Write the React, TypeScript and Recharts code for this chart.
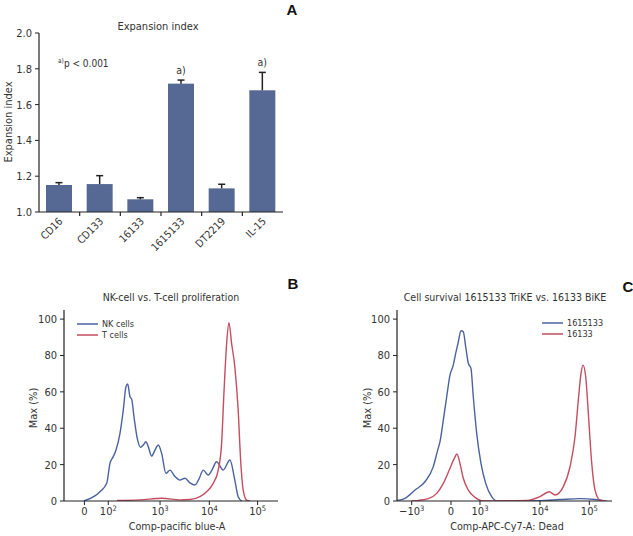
import React from 'react';
import { BarChart, Bar, XAxis, YAxis, LineChart, Line, Legend } from 'recharts';

const FONT = "'DejaVu Sans Condensed', 'Liberation Sans Narrow', 'Roboto', sans-serif";
const TEXT = '#333';
const AXIS = '#222';
const BAR = '#566994';
const BLUE = '#4a62a0';
const RED = '#c44d60';

// ---------- Panel A: expansion index ----------
const categories = ['CD16', 'CD133', '16133', '1615133', 'DT2219', 'IL-15'];
const expansionMeans = [1.151, 1.156, 1.071, 1.717, 1.132, 1.68];
const expansionErrors = [0.013, 0.047, 0.009, 0.02, 0.023, 0.1];
const significance = ['', '', '', 'a)', '', 'a)'];
const expansionTicks = [1.0, 1.2, 1.4, 1.6, 1.8, 2.0];
const Y_MIN_A = 1.0;

const barData = categories.map((c, i) => ({
  name: c,
  mean: expansionMeans[i],
  err: expansionErrors[i],
  sig: significance[i],
}));

// ---------- Panel B: NK vs T proliferation ----------
const nkX = [1.51, 1.833, 1.968, 2.034, 2.1, 2.155, 2.235, 2.301, 2.355, 2.39, 2.436, 2.47, 2.516, 2.582, 2.651, 2.703, 2.757, 2.803, 2.871, 2.938, 3.004, 3.072, 3.159, 3.239, 3.339, 3.44, 3.54, 3.641, 3.741, 3.821, 3.908, 4.008, 4.082, 4.177, 4.309, 4.444, 4.542, 4.61, 4.679];
const nkY = [0, 5.1, 9.7, 20.7, 24.4, 28, 37.2, 50, 62.8, 64.3, 57.3, 56, 46.3, 34.4, 29.5, 30.8, 32.6, 29.9, 24.7, 28, 30.8, 26.2, 15.2, 17, 13.5, 11.5, 12.5, 10, 8.8, 12, 17, 14.3, 17, 21.6, 17, 22.5, 11.5, 2.4, 0];
const tX = [2.175, 2.64, 3.08, 3.44, 3.64, 3.84, 3.976, 4.108, 4.209, 4.277, 4.323, 4.378, 4.424, 4.478, 4.542, 4.61, 4.659, 4.711, 4.779, 4.845];
const tY = [0.3, 0.6, 1.5, 0.6, 0.8, 2.4, 5.1, 9.7, 17, 31.7, 59, 86.6, 98, 86.6, 73.8, 50, 22.5, 6, 0.5, 0];
const bTicks = [1.52, 2, 3.04, 4.03, 5];
const bTickLabels = ['0', '10^2', '10^3', '10^4', '10^5'];
const bSeries = ['NK cells', 'T cells'];

// ---------- Panel C: cell survival ----------
const trikeX = [1.1, 1.262, 1.465, 1.667, 1.836, 1.925, 1.972, 2.039, 2.108, 2.174, 2.241, 2.29, 2.343, 2.398, 2.444, 2.493, 2.546, 2.6, 2.647, 2.716, 2.803, 2.899, 3.02, 3.122, 4.0, 4.406, 4.811, 5.116, 5.318];
const trikeY = [0.3, 1.5, 6, 10.6, 18.9, 28, 32.6, 44.5, 57.3, 69.2, 74.7, 81.1, 87.5, 93.6, 93, 84.8, 75.7, 72.9, 57.3, 37.2, 20.7, 9.7, 2.4, 0, 0.2, 0.8, 1.3, 0.8, 0];
const bikeX = [1.398, 1.734, 1.905, 2.039, 2.16, 2.262, 2.316, 2.377, 2.444, 2.546, 2.682, 2.85, 3.73, 4.0, 4.189, 4.304, 4.473, 4.609, 4.71, 4.777, 4.832, 4.872, 4.927, 4.98, 5.049, 5.116, 5.217, 5.353];
const bikeY = [0, 1.3, 4.2, 9.7, 17, 23.4, 25.8, 20.7, 12.5, 6, 2, 0, 0.3, 2.4, 5.1, 3.3, 7.9, 18.9, 35.3, 55.5, 70.2, 74.7, 68.3, 48.2, 20.7, 6, 0.5, 0];
const cTicks = [1.398, 2.195, 2.783, 4, 5];
const cTickLabels = ['\u221210^3', '0', '10^3', '10^4', '10^5'];
const cSeries = ['1615133', '16133'];

const maxTicks = [0, 20, 40, 60, 80, 100];

const zip = (xs: number[], ys: number[]) => xs.map((x, i) => ({ x, y: ys[i] }));
const nkData = zip(nkX, nkY);
const tData = zip(tX, tY);
const trikeData = zip(trikeX, trikeY);
const bikeData = zip(bikeX, bikeY);

// ---------- custom renderers ----------
const BarWithError = (props: any) => {
  const { x, y, width, height, payload } = props;
  if (width == null || height == null) return null;
  const pxPerUnit = height / (payload.mean - Y_MIN_A);
  const errPx = payload.err * pxPerUnit;
  const cx = x + width / 2;
  const top = y - errPx;
  return (
    <g>
      <rect x={x} y={y} width={width} height={height} fill={BAR} />
      <line x1={cx} x2={cx} y1={y} y2={top} stroke={AXIS} strokeWidth={1.5} />
      <line x1={cx - 3.5} x2={cx + 3.5} y1={top} y2={top} stroke={AXIS} strokeWidth={1.5} />
      {payload.sig ? (
        <text x={cx} y={top - 6} textAnchor="middle" fontSize={10.5} fill={TEXT} fontFamily={FONT}>
          {payload.sig}
        </text>
      ) : null}
    </g>
  );
};

const CatTick = (props: any) => {
  const { x, y, payload, width, visibleTicksCount } = props;
  const idx = payload ? payload.index : 0;
  const half = width && visibleTicksCount ? width / visibleTicksCount / 2 : 0;
  return (
    <g>
      {idx > 0 && half > 0 ? (
        <line x1={x - half} x2={x - half} y1={y} y2={y + 4} stroke={AXIS} strokeWidth={1.2} />
      ) : null}
      <text
        x={x + 4}
        y={y + 10}
        textAnchor="end"
        fontSize={10.5}
        fill={TEXT}
        fontFamily={FONT}
        transform={`rotate(-45 ${x + 4} ${y + 10})`}
      >
        {payload.value}
      </text>
    </g>
  );
};

const makeExpTick = (values: number[], labels: string[]) => (props: any) => {
  const { x, y, payload } = props;
  let i = values.findIndex((v) => Math.abs(v - payload.value) < 1e-6);
  if (i < 0) i = payload.index;
  const lab = labels[i] || '';
  const [base, exp] = lab.split('^');
  return (
    <text x={x} y={y + 8} textAnchor="middle" fontSize={11} fill={TEXT} fontFamily={FONT}>
      <tspan>{base}</tspan>
      {exp ? (
        <tspan dy={-4} fontSize={7.5}>
          {exp}
        </tspan>
      ) : null}
    </text>
  );
};

const makeLegend = (order: string[]) => (props: any) => {
  const payload = [...(props.payload || [])].sort(
    (a: any, b: any) => order.indexOf(a.value) - order.indexOf(b.value)
  );
  return (
    <svg width={90} height={24} style={{ display: 'block' }}>
      {payload.map((p: any, i: number) => (
        <g key={i}>
          <line x1={0} x2={21} y1={6 + i * 11} y2={6 + i * 11} stroke={p.color} strokeWidth={1.5} />
          <text x={25} y={9 + i * 11} fontSize={9} fill={TEXT} fontFamily={FONT}>
            {p.value}
          </text>
        </g>
      ))}
    </svg>
  );
};

const yTickStyle = { fontSize: 11, fill: TEXT, fontFamily: FONT };

export default function App() {
  return (
    <div style={{ position: 'absolute', left: 0, top: 0, width: 633, height: 536, background: '#fff', fontFamily: FONT }}>
      {/* Panel A */}
      <div style={{ position: 'absolute', left: 0, top: 0 }}>
        <BarChart width={300} height={260} data={barData} margin={{ top: 33, right: 17, bottom: 8, left: 9 }}>
          <XAxis
            dataKey="name"
            height={40}
            tickLine={false}
            tickSize={0}
            tickMargin={0}
            interval={0}
            tick={<CatTick />}
            axisLine={{ stroke: AXIS, strokeWidth: 1.2 }}
          />
          <YAxis
            type="number"
            domain={[1, 2]}
            ticks={expansionTicks}
            allowDataOverflow
            width={30}
            tickSize={4}
            tickMargin={3}
            tickFormatter={(v: number) => v.toFixed(1)}
            tick={yTickStyle}
            axisLine={{ stroke: AXIS, strokeWidth: 1.2 }}
            tickLine={{ stroke: AXIS }}
          />
          <Bar dataKey="mean" barSize={26} shape={<BarWithError />} isAnimationActive={false} />
        </BarChart>
      </div>

      {/* Panel B */}
      <div style={{ position: 'absolute', left: 0, top: 280 }}>
        <LineChart width={300} height={256} margin={{ top: 30, right: 22, bottom: 5, left: 34 }}>
          <XAxis
            type="number"
            dataKey="x"
            domain={[1.11, 5.41]}
            allowDataOverflow
            ticks={bTicks}
            interval={0}
            height={30}
            tickSize={4}
            tickMargin={2}
            tick={makeExpTick(bTicks, bTickLabels)}
            axisLine={{ stroke: AXIS, strokeWidth: 1.2 }}
            tickLine={{ stroke: AXIS }}
          />
          <YAxis
            type="number"
            domain={[0, 105]}
            allowDataOverflow
            ticks={maxTicks}
            width={30}
            tickSize={4}
            tickMargin={3}
            tick={yTickStyle}
            axisLine={{ stroke: AXIS, strokeWidth: 1.2 }}
            tickLine={{ stroke: AXIS }}
          />
          <Legend
            layout="vertical"
            align="center"
            verticalAlign="middle"
            content={makeLegend(bSeries)}
            wrapperStyle={{ left: 77, top: 38, width: 90, height: 24 }}
          />
          <Line data={nkData} dataKey="y" name={bSeries[0]} type="monotone" stroke={BLUE} strokeWidth={1.4} dot={false} isAnimationActive={false} />
          <Line data={tData} dataKey="y" name={bSeries[1]} type="monotone" stroke={RED} strokeWidth={1.4} dot={false} isAnimationActive={false} />
        </LineChart>
      </div>

      {/* Panel C */}
      <div style={{ position: 'absolute', left: 310, top: 280 }}>
        <LineChart width={323} height={256} margin={{ top: 30, right: 21, bottom: 5, left: 57 }}>
          <XAxis
            type="number"
            dataKey="x"
            domain={[1.1, 5.46]}
            allowDataOverflow
            ticks={cTicks}
            interval={0}
            height={30}
            tickSize={4}
            tickMargin={2}
            tick={makeExpTick(cTicks, cTickLabels)}
            axisLine={{ stroke: AXIS, strokeWidth: 1.2 }}
            tickLine={{ stroke: AXIS }}
          />
          <YAxis
            type="number"
            domain={[0, 105]}
            allowDataOverflow
            ticks={maxTicks}
            width={30}
            tickSize={4}
            tickMargin={3}
            tick={yTickStyle}
            axisLine={{ stroke: AXIS, strokeWidth: 1.2 }}
            tickLine={{ stroke: AXIS }}
          />
          <Legend
            layout="vertical"
            align="center"
            verticalAlign="middle"
            content={makeLegend(cSeries)}
            wrapperStyle={{ left: 232, top: 37, width: 90, height: 24 }}
          />
          <Line data={trikeData} dataKey="y" name={cSeries[0]} type="monotone" stroke={BLUE} strokeWidth={1.4} dot={false} isAnimationActive={false} />
          <Line data={bikeData} dataKey="y" name={cSeries[1]} type="monotone" stroke={RED} strokeWidth={1.4} dot={false} isAnimationActive={false} />
        </LineChart>
      </div>

      {/* Titles, axis titles, panel letters */}
      <svg width={633} height={536} style={{ position: 'absolute', left: 0, top: 0, pointerEvents: 'none' }} fontFamily={FONT} fill={TEXT}>
        <text x={158} y={30} textAnchor="middle" fontSize={11}>Expansion index</text>
        <text x={292} y={15} textAnchor="middle" fontSize={15} fontWeight="bold" fill="#111" fontFamily="'Liberation Sans', Arial, sans-serif">A</text>
        <text x={58} y={67} fontSize={10}>
          <tspan fontSize={6.5} dy={-4}>a)</tspan>
          <tspan dy={4}>p &lt; 0.001</tspan>
        </text>
        <text transform="translate(12 122) rotate(-90)" textAnchor="middle" fontSize={11}>Expansion index</text>

        <text x={171} y={301} textAnchor="middle" fontSize={10.5}>NK-cell vs. T-cell proliferation</text>
        <text x={293} y={289} textAnchor="middle" fontSize={15} fontWeight="bold" fill="#111" fontFamily="'Liberation Sans', Arial, sans-serif">B</text>
        <text transform="translate(37 408) rotate(-90)" textAnchor="middle" fontSize={11}>Max (%)</text>
        <text x={177} y={530} textAnchor="middle" fontSize={10.7}>Comp-pacific blue-A</text>

        <text x={505} y={301} textAnchor="middle" fontSize={10.5}>Cell survival 1615133 TriKE vs. 16133 BiKE</text>
        <text x={628} y={292} textAnchor="middle" fontSize={15} fontWeight="bold" fill="#111" fontFamily="'Liberation Sans', Arial, sans-serif">C</text>
        <text transform="translate(371 408) rotate(-90)" textAnchor="middle" fontSize={11}>Max (%)</text>
        <text x={507} y={530} textAnchor="middle" fontSize={10.7}>Comp-APC-Cy7-A: Dead</text>
      </svg>
    </div>
  );
}
